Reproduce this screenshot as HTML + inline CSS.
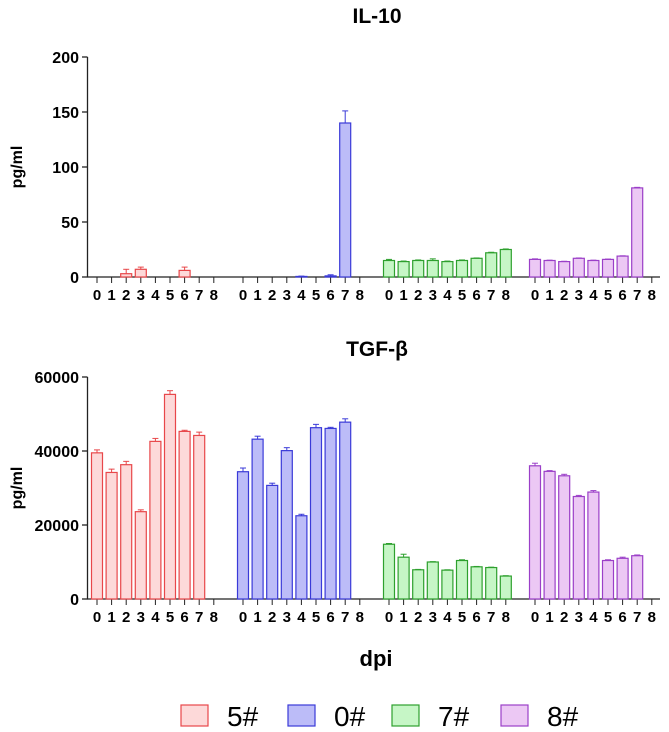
<!DOCTYPE html>
<html><head><meta charset="utf-8"><style>
body{margin:0;background:#fff;}
svg{display:block;font-family:"Liberation Sans",Arial,sans-serif;}
</style></head><body>
<svg id="c" width="669" height="732" viewBox="0 0 669 732"></svg>
<script>
const groups=["5#","0#","7#","8#"];
const days=["0","1","2","3","4","5","6","7","8"];
const il10_5=[0,0,3,7,0,0,6,0,0];
const il10_5e=[0,0,4,2,0,0,3,0,0];
const il10_0=[0,0,0,0,0.5,0,1,140,0];
const il10_0e=[0,0,0,0,0.3,0,1,11,0];
const il10_7=[15,14,15,15,14,15,17,22,25];
const il10_7e=[1,0.5,0.5,1.5,0.5,0.5,0.3,0.5,0.5];
const il10_8=[16,15,14,17,15,16,19,81,null];
const il10_8e=[0.5,0.3,0.3,0.3,0.3,0.3,0.3,0.5,0];
const tgf_5=[39500,34200,36300,23600,42600,55300,45300,44200,null];
const tgf_5e=[800,900,900,500,800,1000,300,900,0];
const tgf_0=[34400,43200,30700,40100,22500,46300,46100,47800,null];
const tgf_0e=[1000,800,600,800,400,900,300,900,0];
const tgf_7=[14800,11300,7900,10000,7800,10400,8700,8500,6200];
const tgf_7e=[200,800,100,100,100,200,100,100,100];
const tgf_8=[36000,34500,33300,27700,28900,10400,11000,11700,null];
const tgf_8e=[700,200,400,300,400,200,300,200,0];
const ilTicks=[0,50,100,150,200];
const tgfTicks=[0,20000,40000,60000];

const strokes=["#e8474a","#3a3ad8","#2ea02e","#9b3fc8"];
const fills=["#fdd9d9","#bcbcf8","#c6f6c6","#ecc8f4"];
const NS="http://www.w3.org/2000/svg";
const svg=document.getElementById('c');
function el(t,a,p){const e=document.createElementNS(NS,t);for(const k in a)e.setAttribute(k,a[k]);(p||svg).appendChild(e);return e;}
function xPos(g,i){return 97+(g*10+i)*14.6;}

function panel(name,title,titleY,y0,y1,maxV,ticks,series,errs){
  const grp=el('g',{});
  
  
  const yS=v=>y0-(v/maxV)*(y0-y1);
  const t=el('text',{x:377,y:titleY,'text-anchor':'middle','font-size':21,'font-weight':'bold'},grp);t.textContent=title;
  
  const ax=el('line',{x1:87.5,y1:y1,x2:87.5,y2:y0,stroke:'#222','stroke-width':1.3},grp);
  
  const xa=el('line',{x1:87,y1:y0,x2:660,y2:y0,stroke:'#222','stroke-width':1.3},grp);
  
  ticks.forEach(v=>{
    const y=yS(v);
    el('line',{x1:82,y1:y,x2:87.5,y2:y,stroke:'#222','stroke-width':1.3},grp);
    const tl=el('text',{x:79,y:y+6,'text-anchor':'end','font-size':16,'font-weight':'bold'},grp);tl.textContent=v;
    
  });
  const yl=el('text',{transform:`translate(22,${(y0+y1)/2}) rotate(-90)`,'text-anchor':'middle','font-size':16,'font-weight':'bold'},grp);yl.textContent='pg/ml';
  
  for(let g=0;g<4;g++){
    for(let i=0;i<9;i++){
      const x=xPos(g,i);
      el('line',{x1:x,y1:y0,x2:x,y2:y0+6,stroke:'#222','stroke-width':1},grp);
      const tl=el('text',{x:x,y:y0+23,'text-anchor':'middle','font-size':15,'font-weight':'bold'},grp);tl.textContent=days[i];
      
      const v=series[g][i];
      if(v===null||v===0)continue;
      const yt=yS(v);const e=errs[g][i];
      if(e>0){
        const ye=yS(v+e);
        el('line',{x1:x,y1:yt,x2:x,y2:ye,stroke:strokes[g],'stroke-width':1},grp);
        el('line',{x1:x-3,y1:ye,x2:x+3,y2:ye,stroke:strokes[g],'stroke-width':1},grp);
      }
      const b=el('rect',{x:x-5.5,y:yt,width:11,height:Math.max(y0-yt,0.5),fill:fills[g],stroke:strokes[g],'stroke-width':1.2},grp);
      
      
    }
  }
}
panel('il10','IL-10',23,277,57,200,ilTicks,[il10_5,il10_0,il10_7,il10_8],[il10_5e,il10_0e,il10_7e,il10_8e]);
panel('tgf','TGF-β',356,599,377,60000,tgfTicks,[tgf_5,tgf_0,tgf_7,tgf_8],[tgf_5e,tgf_0e,tgf_7e,tgf_8e]);

const dpi=el('text',{x:376,y:666,'text-anchor':'middle','font-size':22,'font-weight':'bold'});dpi.textContent='dpi';

const legX=[181,288,392,501];
groups.forEach((g,k)=>{
  const lg=el('g',{});
  
  
  el('rect',{x:legX[k],y:705,width:27,height:21,fill:fills[k],stroke:strokes[k],'stroke-width':1.2},lg);
  const t=el('text',{x:legX[k]+46,y:726,'font-size':28},lg);t.textContent=g;
});
</script>
</body></html>
